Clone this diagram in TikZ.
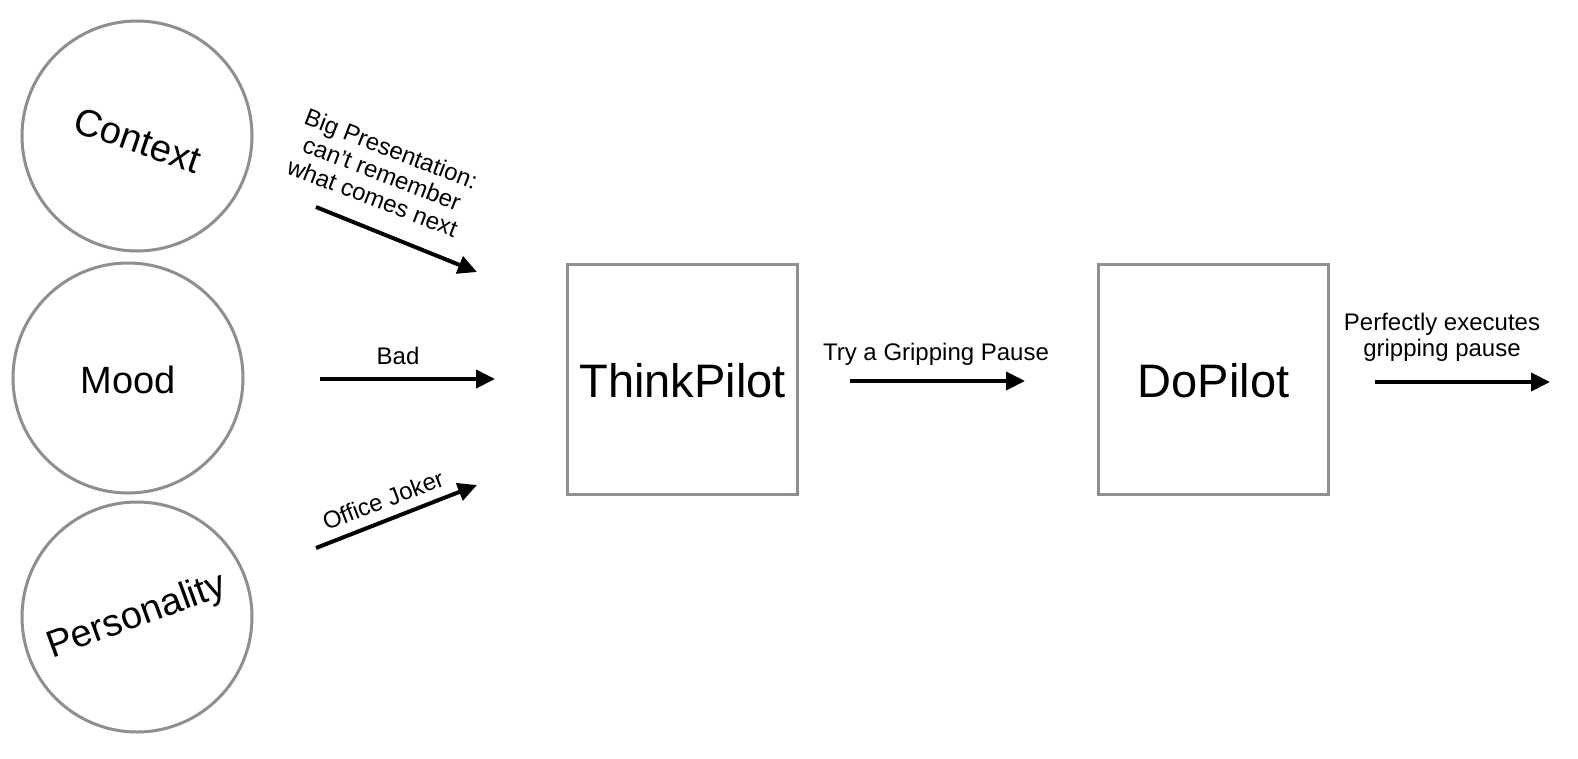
\documentclass[tikz,border=0pt]{standalone}
\usepackage{fontspec}
\setmainfont{Liberation Sans}
\usetikzlibrary{arrows.meta}
\definecolor{edgegray}{HTML}{8E8E93}
\tikzset{
  circ/.style={circle, draw=edgegray, line width=3pt, minimum size=230pt, inner sep=0pt},
  pilotbox/.style={draw=edgegray, line width=3pt, minimum width=230pt, minimum height=230pt, inner sep=0pt},
  bigtxt/.style={font=\fontsize{38}{42}\selectfont},
  hugetxt/.style={font=\fontsize{47}{50}\selectfont},
  lbl/.style={font=\fontsize{24}{26}\selectfont, align=center, inner sep=0pt},
  arr/.style={line width=4pt, -{Triangle[length=19pt,width=18pt]}}
}
\begin{document}
\begin{tikzpicture}[x=1pt,y=-1pt]
\path[use as bounding box] (0,0) rectangle (1578,758);
% circles
\node[circ] (ctx) at (137,136) {};
\node[circ] (mood) at (128,378) {};
\node[circ] (pers) at (137,617) {};
\node[bigtxt, rotate=-19] (ctxt) at (138,140) {Context};
\node[bigtxt] (moodt) at (128,380) {Mood};
\node[bigtxt, rotate=20] (perst) at (137,617) {Personality};
% boxes
\node[pilotbox] (think) at (682.5,379) {};
\node[hugetxt] (thinkt) at (682.5,381) {ThinkPilot};
\node[pilotbox] (do) at (1213.5,379) {};
\node[hugetxt] (dot) at (1213.5,381) {DoPilot};
% arrows
\coordinate (a1s) at (316,207);
\coordinate (a1e) at (477,272);
\coordinate (a2s) at (320,379);
\coordinate (a2e) at (495,379);
\coordinate (a3s) at (316,548);
\coordinate (a3e) at (477,485);
\coordinate (a4s) at (850,381);
\coordinate (a4e) at (1025,381);
\coordinate (a5s) at (1375,382);
\coordinate (a5e) at (1550,382);
\draw[arr] (a1s) -- (a1e);
\draw[arr] (a2s) -- (a2e);
\draw[arr] (a3s) -- (a3e);
\draw[arr] (a4s) -- (a4e);
\draw[arr] (a5s) -- (a5e);
% labels
\node[lbl, rotate=-21] (l1) at (382,173) {Big Presentation:\\can't remember\\what comes next};
\node[lbl, anchor=base] (l2) at (398,364) {Bad};
\node[lbl, rotate=21] (l3) at (383,500) {Office Joker};
\node[lbl, anchor=base] (l4) at (936,360) {Try a Gripping Pause};
\node[lbl, anchor=base] (l5) at (1442,330) {Perfectly executes};
\node[lbl, anchor=base] (l6) at (1442,356) {gripping pause};
\end{tikzpicture}
\end{document}
